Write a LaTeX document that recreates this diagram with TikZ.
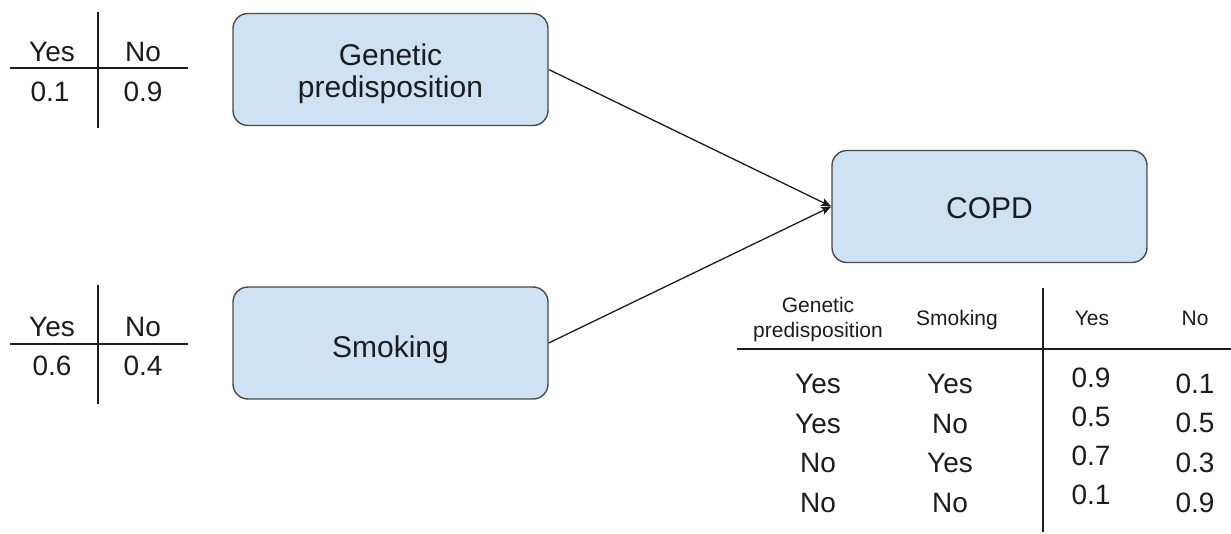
\documentclass[tikz,border=0pt]{standalone}
\usepackage{fontspec}
\setmainfont{Liberation Sans}
\usetikzlibrary{arrows.meta}
\definecolor{boxfill}{HTML}{CFE2F3}
\definecolor{boxline}{HTML}{4A4A4A}
\definecolor{ink}{HTML}{1C1C1C}
\begin{document}
\begin{tikzpicture}[x=1pt,y=-1pt,
  varbox/.style={draw=boxline, line width=1.4pt, fill=boxfill, rounded corners=15pt,
    minimum width=315pt, minimum height=112pt, inner sep=0pt},
  boxtext/.style={inner sep=0pt, align=center, text=ink, font=\fontsize{30}{32}\selectfont},
  cell/.style={inner sep=0pt, text height=20pt, text depth=0pt, text=ink,
    font=\fontsize{28}{32}\selectfont},
  head/.style={inner sep=0pt, text=ink, align=center, font=\fontsize{21}{25}\selectfont},
  headcell/.style={head, text height=15pt, text depth=0pt},
  rule/.style={line width=1.4pt, draw=ink},
  link/.style={line width=1.3pt, draw=ink, -{Stealth[length=10pt,width=8pt,inset=2pt]}}]
\useasboundingbox (0,0) rectangle (1231,533);

% network nodes, each label set slightly below the box centre
\node[varbox, label={[boxtext, name=genlbl, yshift=-4pt]center:{Genetic\\predisposition}}]
  (gen) at (390.5,69.5) {};
\node[varbox, label={[boxtext, name=smklbl, text height=21.5pt, text depth=0pt, yshift=-4pt]center:Smoking}]
  (smk) at (390.5,343) {};
\node[varbox, label={[boxtext, name=copdlbl, text height=21.5pt, text depth=0pt, yshift=-1.5pt]center:COPD}]
  (copd) at (989.5,206.5) {};

\draw[link] (gen.east) -- (copd.west);
\draw[link] (smk.east) -- (copd.west);

% prior table: genetic predisposition
\coordinate (g1t) at (98,12);
\coordinate (g1b) at (98,128);
\coordinate (g1l) at (10,68);
\coordinate (g1r) at (188,68);
\draw[rule] (g1t) -- (g1b);
\draw[rule] (g1l) -- (g1r);
\node[cell] (g1yes) at (52,51) {Yes};
\node[cell] (g1no) at (143,51) {No};
\node[cell] (g1py) at (50,91) {0.1};
\node[cell] (g1pn) at (143,91) {0.9};

% prior table: smoking
\coordinate (s1t) at (98,285);
\coordinate (s1b) at (98,404);
\coordinate (s1l) at (10,344);
\coordinate (s1r) at (188,344);
\draw[rule] (s1t) -- (s1b);
\draw[rule] (s1l) -- (s1r);
\node[cell] (s1yes) at (52,326) {Yes};
\node[cell] (s1no) at (143,326) {No};
\node[cell] (s1py) at (52,365) {0.6};
\node[cell] (s1pn) at (143,365) {0.4};

% conditional table: COPD
\coordinate (ct) at (1043,288);
\coordinate (cb) at (1043,532);
\coordinate (cl) at (737,349);
\coordinate (cr) at (1231,349);
\draw[rule] (ct) -- (cb);
\draw[rule] (cl) -- (cr);
\node[head] (hg) at (818,320) {Genetic\\predisposition};
\node[headcell] (hs) at (957,318) {Smoking};
\node[headcell] (hy) at (1092,318) {Yes};
\node[headcell] (hn) at (1195,318) {No};

\node[cell] (r1g) at (818,383) {Yes};
\node[cell] (r1s) at (950,383) {Yes};
\node[cell] (r1y) at (1091,377) {0.9};
\node[cell] (r1n) at (1195,383) {0.1};

\node[cell] (r2g) at (818,423) {Yes};
\node[cell] (r2s) at (950,423) {No};
\node[cell] (r2y) at (1091,416) {0.5};
\node[cell] (r2n) at (1195,422) {0.5};

\node[cell] (r3g) at (818,462) {No};
\node[cell] (r3s) at (950,462) {Yes};
\node[cell] (r3y) at (1091,455) {0.7};
\node[cell] (r3n) at (1195,462) {0.3};

\node[cell] (r4g) at (818,502) {No};
\node[cell] (r4s) at (950,502) {No};
\node[cell] (r4y) at (1091,494) {0.1};
\node[cell] (r4n) at (1195,502) {0.9};
\end{tikzpicture}
\end{document}
